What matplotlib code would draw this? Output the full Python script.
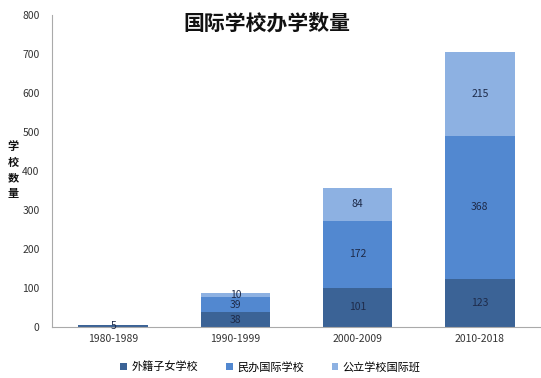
import matplotlib
matplotlib.use('Agg')
import matplotlib.pyplot as plt
import numpy as np

plt.rcParams['font.family'] = ['Noto Sans CJK SC', 'DejaVu Sans']

periodes = ['1980-1989', '1990-1999', '2000-2009', '2010-2018']
series = ['外籍子女学校', '民办国际学校', '公立学校国际班']
waiji = [5, 38, 101, 123]
minban = [0, 39, 172, 368]
gongli = [0, 10, 84, 215]
couleurs = ['#3B6396', '#5288D0', '#8DB1E2']

fig = plt.figure(figsize=(5.41, 3.78), dpi=100)
ax = fig.add_axes([52 / 541, 1 - 327 / 378, 489 / 541, 312 / 378])

x = np.arange(len(periodes))
bas = np.zeros(len(periodes))
for nom, vals, c in zip(series, [waiji, minban, gongli], couleurs):
    vals = np.array(vals, dtype=float)
    ax.bar(x, vals, 0.57, bottom=bas, color=c, label=nom)
    for xi, b, v in zip(x, bas, vals):
        if v > 0:
            ax.text(xi, b + v / 2, str(int(v)), ha='center', va='center',
                    fontsize=7.5, color='#1E2B4A')
    bas += vals

ax.set_xlim(-0.5, 3.5)
ax.set_ylim(0, 800)
ax.set_yticks(range(0, 801, 100))
ax.set_xticks(x)
ax.set_xticklabels(periodes)
ax.tick_params(axis='both', length=0, labelsize=7.5, colors='#333333')
ax.tick_params(axis='y', pad=9)
ax.tick_params(axis='x', pad=5)
for s in ['top', 'right']:
    ax.spines[s].set_visible(False)
ax.spines['left'].set_color('#AAAAAA')
ax.spines['bottom'].set_color('#AAAAAA')

fig.text(267 / 541, 1 - 23 / 378, '国际学校办学数量', ha='center', va='center',
         fontsize=15, fontweight='bold', color='#111111')
fig.text(13 / 541, 1 - 170 / 378, '\n'.join('学校数量'), ha='center', va='center',
         fontsize=8, fontweight='bold', linespacing=1.25, color='#111111')

fig.legend(loc='center', bbox_to_anchor=(0.5, 1 - 367 / 378), ncol=3,
           frameon=False, fontsize=8, handlelength=0.6, handleheight=0.6,
           handletextpad=0.4, columnspacing=2.5)

fig.savefig('out.png', dpi=100)
